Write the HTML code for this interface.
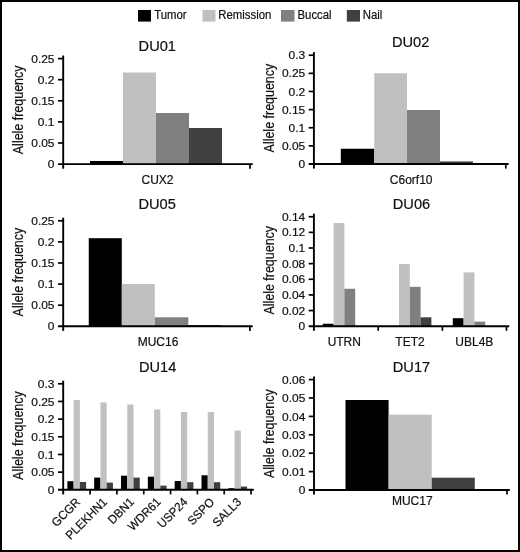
<!DOCTYPE html>
<html lang="en">
<head>
<meta charset="utf-8">
<title>Allele frequency</title>
<style>
html,body{margin:0;padding:0;background:#fff;}
body{width:520px;height:552px;overflow:hidden;}
svg{display:block;}
svg text{font-family:"Liberation Sans", Arial, Helvetica, sans-serif;fill:#111;stroke:#111;stroke-width:0.2px;}
</style>
</head>
<body>
<svg width="520" height="552" viewBox="0 0 520 552">
<rect x="0" y="0" width="520" height="552" fill="#000"/>
<rect x="2" y="2" width="516" height="548" fill="#fff"/>
<rect x="138.00" y="10.00" width="13.00" height="11.60" fill="#000000"/>
<text transform="translate(154.20,18.7) scale(0.955,1)" font-size="11.9">Tumor</text>
<rect x="202.50" y="10.00" width="13.00" height="11.60" fill="#c0c0c0"/>
<text transform="translate(218.30,18.7) scale(0.955,1)" font-size="11.9">Remission</text>
<rect x="281.00" y="10.00" width="13.50" height="11.60" fill="#808080"/>
<text transform="translate(297.50,18.7) scale(0.955,1)" font-size="11.9">Buccal</text>
<rect x="346.80" y="10.00" width="13.20" height="11.60" fill="#404040"/>
<text transform="translate(362.70,18.7) scale(0.955,1)" font-size="11.9">Nail</text>
<rect x="90.00" y="161.00" width="33.00" height="3.10" fill="#000000"/>
<rect x="123.00" y="72.50" width="33.00" height="91.60" fill="#c0c0c0"/>
<rect x="156.00" y="113.00" width="33.00" height="51.10" fill="#808080"/>
<rect x="189.00" y="128.00" width="33.00" height="36.10" fill="#404040"/>
<line x1="63.20" y1="55.50" x2="63.20" y2="168.70" stroke="#000" stroke-width="1.9"/>
<line x1="58.00" y1="164.10" x2="252.80" y2="164.10" stroke="#000" stroke-width="1.9"/>
<text transform="translate(54.50,168.20) scale(1.05,1)" font-size="11.4" text-anchor="end">0</text>
<line x1="58.00" y1="143.00" x2="63.20" y2="143.00" stroke="#000" stroke-width="1.7"/>
<text transform="translate(54.50,147.10) scale(1.05,1)" font-size="11.4" text-anchor="end">0.05</text>
<line x1="58.00" y1="121.90" x2="63.20" y2="121.90" stroke="#000" stroke-width="1.7"/>
<text transform="translate(54.50,126.00) scale(1.05,1)" font-size="11.4" text-anchor="end">0.1</text>
<line x1="58.00" y1="100.80" x2="63.20" y2="100.80" stroke="#000" stroke-width="1.7"/>
<text transform="translate(54.50,104.90) scale(1.05,1)" font-size="11.4" text-anchor="end">0.15</text>
<line x1="58.00" y1="79.70" x2="63.20" y2="79.70" stroke="#000" stroke-width="1.7"/>
<text transform="translate(54.50,83.80) scale(1.05,1)" font-size="11.4" text-anchor="end">0.2</text>
<line x1="58.00" y1="58.60" x2="63.20" y2="58.60" stroke="#000" stroke-width="1.7"/>
<text transform="translate(54.50,62.70) scale(1.05,1)" font-size="11.4" text-anchor="end">0.25</text>
<line x1="250.00" y1="164.10" x2="250.00" y2="168.70" stroke="#000" stroke-width="1.7"/>
<text transform="translate(138.60,50.50) scale(1.03,1)" font-size="14.2">DU01</text>
<text transform="translate(23.00,154.20) rotate(-90) scale(0.89,1)" font-size="14">Allele frequency</text>
<text x="157.50" y="184.20" font-size="12" text-anchor="middle">CUX2</text>
<rect x="340.80" y="148.75" width="33.50" height="15.25" fill="#000000"/>
<rect x="374.30" y="73.25" width="32.70" height="90.75" fill="#c0c0c0"/>
<rect x="407.00" y="110.00" width="33.00" height="54.00" fill="#808080"/>
<rect x="440.00" y="161.40" width="33.00" height="2.60" fill="#404040"/>
<line x1="313.90" y1="52.15" x2="313.90" y2="168.60" stroke="#000" stroke-width="1.9"/>
<line x1="308.70" y1="164.00" x2="508.60" y2="164.00" stroke="#000" stroke-width="1.9"/>
<text transform="translate(305.20,168.10) scale(1.05,1)" font-size="11.4" text-anchor="end">0</text>
<line x1="308.70" y1="145.87" x2="313.90" y2="145.87" stroke="#000" stroke-width="1.7"/>
<text transform="translate(305.20,149.97) scale(1.05,1)" font-size="11.4" text-anchor="end">0.05</text>
<line x1="308.70" y1="127.74" x2="313.90" y2="127.74" stroke="#000" stroke-width="1.7"/>
<text transform="translate(305.20,131.84) scale(1.05,1)" font-size="11.4" text-anchor="end">0.1</text>
<line x1="308.70" y1="109.61" x2="313.90" y2="109.61" stroke="#000" stroke-width="1.7"/>
<text transform="translate(305.20,113.71) scale(1.05,1)" font-size="11.4" text-anchor="end">0.15</text>
<line x1="308.70" y1="91.48" x2="313.90" y2="91.48" stroke="#000" stroke-width="1.7"/>
<text transform="translate(305.20,95.58) scale(1.05,1)" font-size="11.4" text-anchor="end">0.2</text>
<line x1="308.70" y1="73.35" x2="313.90" y2="73.35" stroke="#000" stroke-width="1.7"/>
<text transform="translate(305.20,77.45) scale(1.05,1)" font-size="11.4" text-anchor="end">0.25</text>
<line x1="308.70" y1="55.22" x2="313.90" y2="55.22" stroke="#000" stroke-width="1.7"/>
<text transform="translate(305.20,59.32) scale(1.05,1)" font-size="11.4" text-anchor="end">0.3</text>
<line x1="505.80" y1="164.00" x2="505.80" y2="168.60" stroke="#000" stroke-width="1.7"/>
<text transform="translate(392.00,47.00) scale(1.03,1)" font-size="14.2">DU02</text>
<text transform="translate(274.20,152.40) rotate(-90) scale(0.89,1)" font-size="14">Allele frequency</text>
<text x="411.20" y="183.70" font-size="12" text-anchor="middle">C6orf10</text>
<rect x="88.75" y="238.20" width="33.05" height="88.10" fill="#000000"/>
<rect x="121.80" y="284.00" width="33.00" height="42.30" fill="#c0c0c0"/>
<rect x="154.80" y="317.30" width="33.50" height="9.00" fill="#808080"/>
<rect x="188.30" y="325.00" width="32.70" height="1.30" fill="#404040"/>
<line x1="63.20" y1="217.70" x2="63.20" y2="330.90" stroke="#000" stroke-width="1.9"/>
<line x1="58.00" y1="326.30" x2="252.70" y2="326.30" stroke="#000" stroke-width="1.9"/>
<text transform="translate(54.50,330.40) scale(1.05,1)" font-size="11.4" text-anchor="end">0</text>
<line x1="58.00" y1="305.20" x2="63.20" y2="305.20" stroke="#000" stroke-width="1.7"/>
<text transform="translate(54.50,309.30) scale(1.05,1)" font-size="11.4" text-anchor="end">0.05</text>
<line x1="58.00" y1="284.10" x2="63.20" y2="284.10" stroke="#000" stroke-width="1.7"/>
<text transform="translate(54.50,288.20) scale(1.05,1)" font-size="11.4" text-anchor="end">0.1</text>
<line x1="58.00" y1="263.00" x2="63.20" y2="263.00" stroke="#000" stroke-width="1.7"/>
<text transform="translate(54.50,267.10) scale(1.05,1)" font-size="11.4" text-anchor="end">0.15</text>
<line x1="58.00" y1="241.90" x2="63.20" y2="241.90" stroke="#000" stroke-width="1.7"/>
<text transform="translate(54.50,246.00) scale(1.05,1)" font-size="11.4" text-anchor="end">0.2</text>
<line x1="58.00" y1="220.80" x2="63.20" y2="220.80" stroke="#000" stroke-width="1.7"/>
<text transform="translate(54.50,224.90) scale(1.05,1)" font-size="11.4" text-anchor="end">0.25</text>
<line x1="249.90" y1="326.30" x2="249.90" y2="330.90" stroke="#000" stroke-width="1.7"/>
<text transform="translate(138.40,209.00) scale(1.03,1)" font-size="14.2">DU05</text>
<text transform="translate(23.00,316.40) rotate(-90) scale(0.89,1)" font-size="14">Allele frequency</text>
<text x="158.00" y="345.60" font-size="12" text-anchor="middle">MUC16</text>
<rect x="322.80" y="323.75" width="10.80" height="2.45" fill="#000000"/>
<rect x="333.60" y="223.00" width="10.80" height="103.20" fill="#c0c0c0"/>
<rect x="344.40" y="288.75" width="10.80" height="37.45" fill="#808080"/>
<rect x="399.00" y="264.00" width="10.80" height="62.20" fill="#c0c0c0"/>
<rect x="409.80" y="286.80" width="10.80" height="39.40" fill="#808080"/>
<rect x="420.60" y="317.30" width="10.80" height="8.90" fill="#404040"/>
<rect x="452.80" y="318.20" width="10.80" height="8.00" fill="#000000"/>
<rect x="463.60" y="272.40" width="10.80" height="53.80" fill="#c0c0c0"/>
<rect x="474.40" y="321.60" width="10.80" height="4.60" fill="#808080"/>
<line x1="313.90" y1="213.65" x2="313.90" y2="330.80" stroke="#000" stroke-width="1.9"/>
<line x1="308.70" y1="326.20" x2="509.30" y2="326.20" stroke="#000" stroke-width="1.9"/>
<text transform="translate(305.20,330.30) scale(1.05,1)" font-size="11.4" text-anchor="end">0</text>
<line x1="308.70" y1="310.56" x2="313.90" y2="310.56" stroke="#000" stroke-width="1.7"/>
<text transform="translate(305.20,314.66) scale(1.05,1)" font-size="11.4" text-anchor="end">0.02</text>
<line x1="308.70" y1="294.92" x2="313.90" y2="294.92" stroke="#000" stroke-width="1.7"/>
<text transform="translate(305.20,299.02) scale(1.05,1)" font-size="11.4" text-anchor="end">0.04</text>
<line x1="308.70" y1="279.28" x2="313.90" y2="279.28" stroke="#000" stroke-width="1.7"/>
<text transform="translate(305.20,283.38) scale(1.05,1)" font-size="11.4" text-anchor="end">0.06</text>
<line x1="308.70" y1="263.64" x2="313.90" y2="263.64" stroke="#000" stroke-width="1.7"/>
<text transform="translate(305.20,267.74) scale(1.05,1)" font-size="11.4" text-anchor="end">0.08</text>
<line x1="308.70" y1="248.00" x2="313.90" y2="248.00" stroke="#000" stroke-width="1.7"/>
<text transform="translate(305.20,252.10) scale(1.05,1)" font-size="11.4" text-anchor="end">0.1</text>
<line x1="308.70" y1="232.36" x2="313.90" y2="232.36" stroke="#000" stroke-width="1.7"/>
<text transform="translate(305.20,236.46) scale(1.05,1)" font-size="11.4" text-anchor="end">0.12</text>
<line x1="308.70" y1="216.72" x2="313.90" y2="216.72" stroke="#000" stroke-width="1.7"/>
<text transform="translate(305.20,220.82) scale(1.05,1)" font-size="11.4" text-anchor="end">0.14</text>
<line x1="378.20" y1="326.20" x2="378.20" y2="330.80" stroke="#000" stroke-width="1.7"/>
<line x1="442.40" y1="326.20" x2="442.40" y2="330.80" stroke="#000" stroke-width="1.7"/>
<line x1="506.50" y1="326.20" x2="506.50" y2="330.80" stroke="#000" stroke-width="1.7"/>
<text transform="translate(392.80,208.70) scale(1.03,1)" font-size="14.2">DU06</text>
<text transform="translate(274.20,314.60) rotate(-90) scale(0.89,1)" font-size="14">Allele frequency</text>
<text x="344.30" y="345.60" font-size="12" text-anchor="middle">UTRN</text>
<text x="410.00" y="345.60" font-size="12" text-anchor="middle">TET2</text>
<text x="474.30" y="345.60" font-size="12" text-anchor="middle">UBL4B</text>
<rect x="67.35" y="481.20" width="6.25" height="8.60" fill="#000000"/>
<rect x="73.60" y="400.00" width="6.25" height="89.80" fill="#c0c0c0"/>
<rect x="79.85" y="482.00" width="6.25" height="7.80" fill="#404040"/>
<rect x="94.18" y="477.60" width="6.25" height="12.20" fill="#000000"/>
<rect x="100.43" y="402.40" width="6.25" height="87.40" fill="#c0c0c0"/>
<rect x="106.68" y="482.60" width="6.25" height="7.20" fill="#404040"/>
<rect x="121.01" y="475.70" width="6.25" height="14.10" fill="#000000"/>
<rect x="127.26" y="404.50" width="6.25" height="85.30" fill="#c0c0c0"/>
<rect x="133.51" y="477.60" width="6.25" height="12.20" fill="#404040"/>
<rect x="147.84" y="476.70" width="6.25" height="13.10" fill="#000000"/>
<rect x="154.09" y="409.40" width="6.25" height="80.40" fill="#c0c0c0"/>
<rect x="160.34" y="485.60" width="6.25" height="4.20" fill="#404040"/>
<rect x="174.67" y="481.00" width="6.25" height="8.80" fill="#000000"/>
<rect x="180.92" y="412.00" width="6.25" height="77.80" fill="#c0c0c0"/>
<rect x="187.17" y="482.20" width="6.25" height="7.60" fill="#404040"/>
<rect x="201.50" y="475.30" width="6.25" height="14.50" fill="#000000"/>
<rect x="207.75" y="412.00" width="6.25" height="77.80" fill="#c0c0c0"/>
<rect x="214.00" y="482.20" width="6.25" height="7.60" fill="#404040"/>
<rect x="228.33" y="488.20" width="6.25" height="1.60" fill="#000000"/>
<rect x="234.58" y="430.60" width="6.25" height="59.20" fill="#c0c0c0"/>
<rect x="240.83" y="486.50" width="6.25" height="3.30" fill="#404040"/>
<line x1="63.20" y1="380.70" x2="63.20" y2="494.40" stroke="#000" stroke-width="1.9"/>
<line x1="58.00" y1="489.80" x2="253.80" y2="489.80" stroke="#000" stroke-width="1.9"/>
<text transform="translate(54.50,493.90) scale(1.05,1)" font-size="11.4" text-anchor="end">0</text>
<line x1="58.00" y1="472.13" x2="63.20" y2="472.13" stroke="#000" stroke-width="1.7"/>
<text transform="translate(54.50,476.23) scale(1.05,1)" font-size="11.4" text-anchor="end">0.05</text>
<line x1="58.00" y1="454.46" x2="63.20" y2="454.46" stroke="#000" stroke-width="1.7"/>
<text transform="translate(54.50,458.56) scale(1.05,1)" font-size="11.4" text-anchor="end">0.1</text>
<line x1="58.00" y1="436.79" x2="63.20" y2="436.79" stroke="#000" stroke-width="1.7"/>
<text transform="translate(54.50,440.89) scale(1.05,1)" font-size="11.4" text-anchor="end">0.15</text>
<line x1="58.00" y1="419.12" x2="63.20" y2="419.12" stroke="#000" stroke-width="1.7"/>
<text transform="translate(54.50,423.22) scale(1.05,1)" font-size="11.4" text-anchor="end">0.2</text>
<line x1="58.00" y1="401.45" x2="63.20" y2="401.45" stroke="#000" stroke-width="1.7"/>
<text transform="translate(54.50,405.55) scale(1.05,1)" font-size="11.4" text-anchor="end">0.25</text>
<line x1="58.00" y1="383.78" x2="63.20" y2="383.78" stroke="#000" stroke-width="1.7"/>
<text transform="translate(54.50,387.88) scale(1.05,1)" font-size="11.4" text-anchor="end">0.3</text>
<line x1="90.08" y1="489.80" x2="90.08" y2="494.40" stroke="#000" stroke-width="1.7"/>
<line x1="116.91" y1="489.80" x2="116.91" y2="494.40" stroke="#000" stroke-width="1.7"/>
<line x1="143.74" y1="489.80" x2="143.74" y2="494.40" stroke="#000" stroke-width="1.7"/>
<line x1="170.57" y1="489.80" x2="170.57" y2="494.40" stroke="#000" stroke-width="1.7"/>
<line x1="197.40" y1="489.80" x2="197.40" y2="494.40" stroke="#000" stroke-width="1.7"/>
<line x1="224.23" y1="489.80" x2="224.23" y2="494.40" stroke="#000" stroke-width="1.7"/>
<line x1="251.06" y1="489.80" x2="251.06" y2="494.40" stroke="#000" stroke-width="1.7"/>
<text transform="translate(139.00,371.60) scale(1.03,1)" font-size="14.2">DU14</text>
<text transform="translate(23.00,479.90) rotate(-90) scale(0.89,1)" font-size="14">Allele frequency</text>
<text transform="translate(81.06,502.80) rotate(-45) scale(0.96,1)" font-size="12.1" text-anchor="end">GCGR</text>
<text transform="translate(107.90,502.80) rotate(-45) scale(0.96,1)" font-size="12.1" text-anchor="end">PLEKHN1</text>
<text transform="translate(134.72,502.80) rotate(-45) scale(0.96,1)" font-size="12.1" text-anchor="end">DBN1</text>
<text transform="translate(161.56,502.80) rotate(-45) scale(0.96,1)" font-size="12.1" text-anchor="end">WDR61</text>
<text transform="translate(188.38,502.80) rotate(-45) scale(0.96,1)" font-size="12.1" text-anchor="end">USP24</text>
<text transform="translate(215.21,502.80) rotate(-45) scale(0.96,1)" font-size="12.1" text-anchor="end">SSPO</text>
<text transform="translate(242.04,502.80) rotate(-45) scale(0.96,1)" font-size="12.1" text-anchor="end">SALL3</text>
<rect x="345.50" y="400.00" width="43.10" height="90.00" fill="#000000"/>
<rect x="388.60" y="414.60" width="43.10" height="75.40" fill="#c0c0c0"/>
<rect x="431.70" y="477.70" width="43.10" height="12.30" fill="#404040"/>
<line x1="314.00" y1="376.50" x2="314.00" y2="494.60" stroke="#000" stroke-width="1.9"/>
<line x1="308.80" y1="490.00" x2="509.80" y2="490.00" stroke="#000" stroke-width="1.9"/>
<text transform="translate(305.30,494.10) scale(1.05,1)" font-size="11.4" text-anchor="end">0</text>
<line x1="308.80" y1="471.60" x2="314.00" y2="471.60" stroke="#000" stroke-width="1.7"/>
<text transform="translate(305.30,475.70) scale(1.05,1)" font-size="11.4" text-anchor="end">0.01</text>
<line x1="308.80" y1="453.20" x2="314.00" y2="453.20" stroke="#000" stroke-width="1.7"/>
<text transform="translate(305.30,457.30) scale(1.05,1)" font-size="11.4" text-anchor="end">0.02</text>
<line x1="308.80" y1="434.80" x2="314.00" y2="434.80" stroke="#000" stroke-width="1.7"/>
<text transform="translate(305.30,438.90) scale(1.05,1)" font-size="11.4" text-anchor="end">0.03</text>
<line x1="308.80" y1="416.40" x2="314.00" y2="416.40" stroke="#000" stroke-width="1.7"/>
<text transform="translate(305.30,420.50) scale(1.05,1)" font-size="11.4" text-anchor="end">0.04</text>
<line x1="308.80" y1="398.00" x2="314.00" y2="398.00" stroke="#000" stroke-width="1.7"/>
<text transform="translate(305.30,402.10) scale(1.05,1)" font-size="11.4" text-anchor="end">0.05</text>
<line x1="308.80" y1="379.60" x2="314.00" y2="379.60" stroke="#000" stroke-width="1.7"/>
<text transform="translate(305.30,383.70) scale(1.05,1)" font-size="11.4" text-anchor="end">0.06</text>
<line x1="507.00" y1="490.00" x2="507.00" y2="494.60" stroke="#000" stroke-width="1.7"/>
<text transform="translate(392.80,371.50) scale(1.03,1)" font-size="14.2">DU17</text>
<text transform="translate(274.00,478.00) rotate(-90) scale(0.89,1)" font-size="14">Allele frequency</text>
<text x="412.30" y="504.80" font-size="12" text-anchor="middle">MUC17</text>
</svg>
</body>
</html>
